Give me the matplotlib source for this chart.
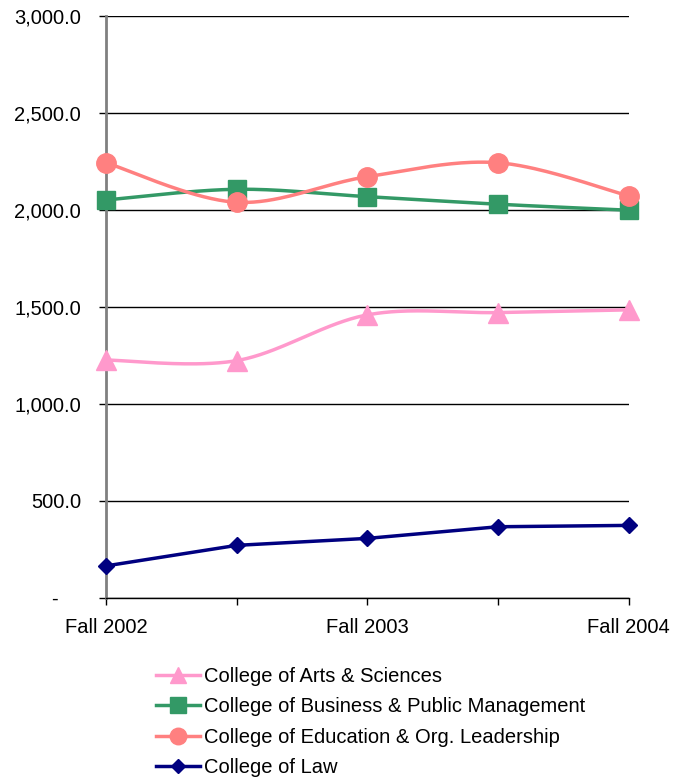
import numpy as np
import matplotlib
matplotlib.use('Agg')
from matplotlib import pyplot as plt
from matplotlib.ticker import FuncFormatter, FixedLocator

plt.rcParams['font.family'] = ['Liberation Sans', 'DejaVu Sans']

terms = ['Fall 2002', 'Spring 2003', 'Fall 2003', 'Spring 2004', 'Fall 2004']
tick_labels = ['Fall 2002', '', 'Fall 2003', '', 'Fall 2004']

arts = [1225, 1222, 1458, 1470, 1484]
business = [2051, 2106, 2068, 2029, 1998]
education = [2243, 2039, 2171, 2243, 2072]
law = [163, 269, 305, 365, 372]

series = [
    ('College of Arts & Sciences', arts, '#FF99CC', '^', 14, True),
    ('College of Business & Public Management', business, '#339966', 's', 13, True),
    ('College of Education & Org. Leadership', education, '#FF8080', 'o', 14, True),
    ('College of Law', law, '#000080', 'D', 8, False),
]


def smooth(x, y, n=40):
    # excel style smoothing: bezier with catmull-rom control points
    x = np.asarray(x, float)
    y = np.asarray(y, float)
    px = np.concatenate([[x[0]], x, [x[-1]]])
    py = np.concatenate([[y[0]], y, [y[-1]]])
    t = np.linspace(0, 1, n)
    xs, ys = [], []
    for i in range(len(x) - 1):
        p0 = np.array([px[i + 1], py[i + 1]])
        p3 = np.array([px[i + 2], py[i + 2]])
        c1 = p0 + (np.array([px[i + 2], py[i + 2]]) - np.array([px[i], py[i]])) / 6
        c2 = p3 - (np.array([px[i + 3], py[i + 3]]) - np.array([px[i + 1], py[i + 1]])) / 6
        b = ((1 - t) ** 3)[:, None] * p0 + (3 * (1 - t) ** 2 * t)[:, None] * c1 \
            + (3 * (1 - t) * t ** 2)[:, None] * c2 + (t ** 3)[:, None] * p3
        xs.extend(b[:, 0])
        ys.extend(b[:, 1])
    return xs, ys


fig = plt.figure(figsize=(6.86, 7.78), dpi=100)
ax = fig.add_axes([106 / 686, 1 - 597.5 / 778, 522.7 / 686, 581.5 / 778])

xx = np.arange(len(terms))
for label, vals, color, marker, ms, sm in series:
    if sm:
        sx, sy = smooth(xx, vals)
    else:
        sx, sy = xx, vals
    ax.plot(sx, sy, color=color, lw=2.5, clip_on=False, zorder=3)
    ax.plot(xx, vals, linestyle='', marker=marker, ms=ms, color=color,
            clip_on=False, zorder=4)
    # legend proxy
    ax.plot([], [], color=color, lw=2.5, marker=marker, ms=ms * 0.85, label=label)

ax.set_xlim(0, 4)
ax.set_ylim(0, 3000)
ax.yaxis.set_major_locator(FixedLocator(np.arange(0, 3001, 500)))
ax.yaxis.set_major_formatter(FuncFormatter(lambda v, p: '-    ' if v == 0 else f'{v:,.1f}'))
ax.set_xticks(xx)
ax.set_xticklabels(tick_labels)
ax.grid(axis='y', color='black', lw=1)
ax.set_axisbelow(True)
for s in ['top', 'right']:
    ax.spines[s].set_visible(False)
ax.spines['left'].set_color('#808080')
ax.spines['left'].set_linewidth(2)
ax.spines['bottom'].set_color('black')
ax.spines['bottom'].set_linewidth(1)
ax.tick_params(axis='y', length=5, width=1, color='black', pad=13, labelsize=14.5)
ax.tick_params(axis='x', length=5, width=1, color='black', pad=10, labelsize=14.5)

fig.legend(loc='upper left', bbox_to_anchor=(156 / 686, 1 - 667 / 778), frameon=False,
           fontsize=14.5, handlelength=2.2, handletextpad=0.2, labelspacing=0.56,
           borderpad=0, borderaxespad=0)

plt.savefig('out.png', dpi=100)
